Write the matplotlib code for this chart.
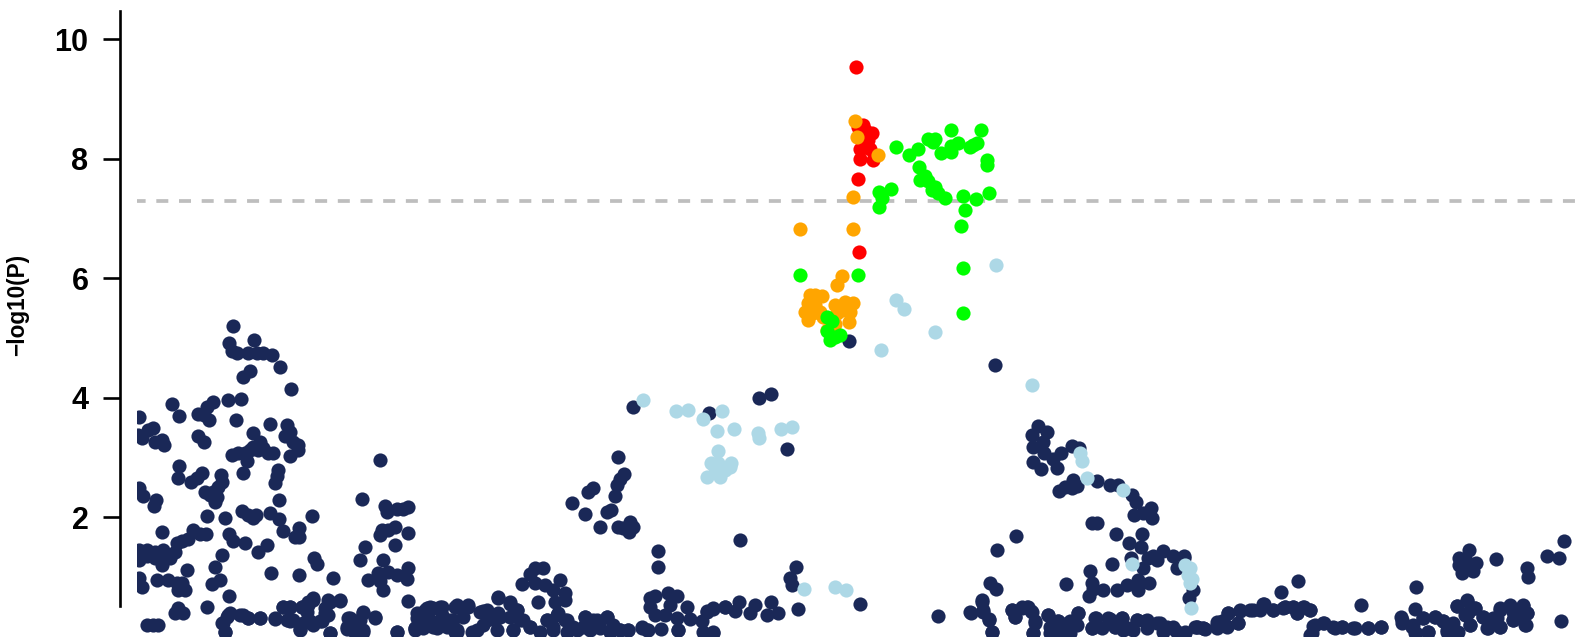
# -*- coding: utf-8 -*-
import numpy as np
import matplotlib
matplotlib.use("Agg")
import matplotlib.pyplot as plt

plt.rcParams["font.family"] = ["Liberation Sans", "DejaVu Sans"]

# Position along the region (arbitrary kb from the left edge) and -log10(P)
# Navy points, left part of the region
navy_a_x = [96.3, 91.7, 94.7, 100.3, 117, 111.3, 119.7, 126.3, 134.7, 143, 113, 105.7, 154, 90.7, 103.7, 35.3, 75.7, 69.7, 61.3, 67, 72.3, 42.3, 99, 2, 133, 149.7, 115.7, 153, 148, 11.3, 16.3, 4.7, 1.3, 61.3, 67.3, 18, 24.7, 27, 156.3, 160.7, 161.3, 123, 116.3, 126.3, 94.7, 101.3, 108, 113, 121.3, 131.3, 136.3, 110.3, 153, 105.7, 141.3, 139.7, 138, 42, 41.3, 64.7, 59.7, 54, 83.7, 84.7, 81.3, 76.3, 68, 73, 79.7, 78, 2.3, 6.3, 18.7, 17.3, 142, 104.7, 111.3, 119, 116.3, 133, 142, 69.7, 88.3, 174.7, 25.3, 56.3, 68.7, 63, 51.3, 44.7, 39.7, 92.3, 96.3, 108, 146.3, 162.3, 158, 162, 129.7, 121.3, 84.7, 2.3, 2.3, 9.7, 9.7, 18, 18, 26.3, 26.3, 24.7, 33, 38, 78, 49.7, 83, 75.3, 177.3, 180.3, 134, 161.7, 195.7, 2.3, 4.7, 19.7, 31.3, 39.7, 44.7, 41.3, 48, 92.3, 69.7, 40.7, 38, 45.7, 9.7, 15.7, 21.3]
navy_a_y = [5.20, 4.91, 4.78, 4.75, 4.97, 4.75, 4.75, 4.74, 4.71, 4.52, 4.45, 4.34, 4.14, 3.96, 3.97, 3.90, 3.92, 3.84, 3.72, 3.71, 3.62, 3.70, 3.62, 3.67, 3.56, 3.54, 3.40, 3.42, 3.36, 3.46, 3.49, 3.32, 3.37, 3.36, 3.26, 3.25, 3.29, 3.20, 3.26, 3.21, 3.12, 3.25, 3.18, 3.15, 3.04, 3.07, 3.07, 3.12, 3.12, 3.07, 3.07, 2.93, 3.03, 2.73, 2.79, 2.68, 2.57, 2.85, 2.65, 2.74, 2.65, 2.58, 2.70, 2.59, 2.51, 2.42, 2.42, 2.37, 2.34, 2.25, 2.48, 2.36, 2.28, 2.19, 2.28, 2.10, 2.03, 2.04, 1.98, 2.06, 1.97, 2.01, 1.98, 2.01, 1.75, 1.78, 1.71, 1.71, 1.64, 1.60, 1.56, 1.71, 1.59, 1.56, 1.77, 1.81, 1.66, 1.66, 1.53, 1.42, 1.36, 1.45, 1.28, 1.45, 1.34, 1.42, 1.31, 1.45, 1.31, 1.19, 1.31, 1.42, 1.17, 1.11, 0.94, 0.87, 1.32, 1.22, 1.07, 1.03, 0.97, 0.97, 0.83, 0.94, 0.94, 0.89, 0.89, 0.78, 0.78, 0.68, 0.50, 0.47, 0.40, 0.40, 0.19, 0.19, 0.19]

navy_b_x = [243, 225.3, 248, 249.7, 259.7, 265.7, 271.3, 244.7, 243, 251.3, 258, 271.3, 258, 228, 223, 246.3, 251.3, 259.7, 271.3, 269.7, 241.3, 231.3, 243, 245.7, 271.3, 84.7, 88, 91.3, 103, 111.3, 123, 138, 146.3, 153, 153, 163, 164.7, 171.3, 176.3, 173, 183, 191.3, 203, 188, 193, 211.3, 218, 226.3, 238, 209.7, 226.3, 259.7, 279.7, 289.7, 278, 289.7]
navy_b_y = [2.95, 2.30, 2.19, 2.08, 2.14, 2.13, 2.17, 1.78, 1.70, 1.78, 1.84, 1.74, 1.53, 1.49, 1.28, 1.28, 1.08, 1.03, 1.14, 0.96, 1.06, 0.94, 0.92, 0.77, 0.59, 0.22, 0.08, 0.36, 0.36, 0.30, 0.30, 0.29, 0.50, 0.50, 0.25, 0.11, 0.50, 0.58, 0.64, 0.25, 0.25, 0.61, 0.61, 0.39, 0.05, 0.30, 0.25, 0.39, 0.33, 0.13, 0.08, 0.08, 0.30, 0.44, 0.11, 0.19]

# Navy points, middle of the region
navy_c_x = [496.3, 572.3, 622, 634, 649.7, 480.7, 487.3, 483, 479.7, 478, 456.3, 451.3, 435, 448, 473.7, 470.3, 463, 481.3, 493, 496.3, 492.3, 486.3, 521.3, 521.3, 603, 658.7, 653, 654.7, 661.3, 398, 405.7, 393, 423, 384.7, 398, 408, 416.3, 428, 401.3, 418, 428, 293, 303, 319.7, 330.7, 361.3, 373, 346.3, 379.7, 293, 303, 319.7, 339.7, 363, 383, 393, 349.7, 421.3, 409.7, 429.7, 448, 469.7, 459.7, 483, 491.3, 504.7, 509.7, 416.3, 439.7, 376.3, 453]
navy_c_y = [3.85, 3.74, 4.00, 4.06, 3.14, 3.00, 2.72, 2.64, 2.54, 2.35, 2.48, 2.42, 2.24, 2.05, 2.12, 2.09, 1.84, 1.83, 1.92, 1.84, 1.75, 1.81, 1.43, 1.17, 1.61, 1.17, 0.98, 0.86, 0.46, 1.14, 1.14, 1.05, 0.94, 0.88, 0.89, 0.86, 0.78, 0.72, 0.57, 0.58, 0.61, 0.50, 0.50, 0.53, 0.53, 0.66, 0.58, 0.42, 0.44, 0.27, 0.22, 0.11, 0.11, 0.33, 0.27, 0.16, 0.27, 0.39, 0.27, 0.27, 0.33, 0.33, 0.27, 0.11, 0.11, 0.14, 0.11, 0.11, 0.11, 0.11, 0.11]

navy_d_x = [513, 518, 513, 531.3, 539.7, 533, 549.7, 518, 528, 539.7, 553, 564.7, 569.7, 576.3, 588, 598, 602.3, 618, 613, 629.7, 634, 641.3, 524, 541.3, 566.3, 576.3, 712, 857.6]
navy_d_y = [0.64, 0.67, 0.50, 0.72, 0.67, 0.53, 0.50, 0.36, 0.36, 0.30, 0.29, 0.25, 0.42, 0.46, 0.49, 0.42, 0.58, 0.53, 0.39, 0.36, 0.58, 0.39, 0.12, 0.11, 0.08, 0.05, 4.95, 4.55]

# Navy points, right of the peak
navy_e_x = [900.7, 909.7, 894.7, 905.7, 896.3, 907, 923.7, 916.3, 935.3, 942, 896.3, 903.7, 919.7, 959.7, 922, 928, 936.3, 934.7, 939.7, 973, 980.7, 994.7, 998.7, 1014, 997.3, 1006.3, 1015.3, 954.7, 960.3, 979, 1004.7, 992.3, 1004, 879, 860, 993.7, 975.3, 1005.7, 1011.3, 1016.3, 1026.3, 1020.3, 1035.7, 1047, 1040.3, 1055.7, 1052.3, 953, 929, 853, 858.7, 954.7, 966.3, 979.7, 989.7, 1001.3, 1012.3, 1000.7, 951.7, 956.3, 723.3, 801]
navy_e_y = [3.53, 3.43, 3.37, 3.26, 3.18, 3.08, 3.08, 2.98, 3.19, 3.16, 2.92, 2.81, 2.82, 2.61, 2.44, 2.50, 2.62, 2.48, 2.52, 2.54, 2.53, 2.37, 2.25, 2.15, 2.03, 2.07, 1.99, 1.90, 1.90, 1.72, 1.71, 1.56, 1.50, 1.69, 1.44, 1.32, 1.21, 1.14, 1.31, 1.34, 1.43, 1.28, 1.35, 1.34, 1.14, 0.77, 0.65, 1.10, 0.88, 0.89, 0.79, 0.89, 0.78, 0.78, 0.86, 0.94, 0.89, 0.77, 0.68, 0.80, 0.54, 0.34]

navy_f_x = [845.3, 833.7, 846.3, 852, 854.7, 874.7, 878, 884.7, 890.3, 893.7, 898, 896.3, 911.3, 913, 921.3, 931.3, 941.3, 939.7, 914.7, 931.3, 958.7, 954.7, 973, 984.7, 978, 999.7, 1008, 1019.7, 996.3, 1029.7, 1048, 1059.7, 1066.3, 1079.7, 1038, 986.3]
navy_f_y = [0.61, 0.40, 0.44, 0.29, 0.08, 0.44, 0.33, 0.47, 0.50, 0.42, 0.23, 0.05, 0.36, 0.16, 0.25, 0.23, 0.39, 0.19, 0.02, 0.05, 0.31, 0.14, 0.29, 0.31, 0.16, 0.27, 0.26, 0.22, 0.11, 0.16, 0.08, 0.16, 0.14, 0.24, 0.11, 0.11]

# Navy points, far right
navy_g_x = [1047, 1058, 1066.3, 1079.7, 1084.7, 1089.7, 1101.3, 1091.3, 1103, 1113, 1123, 1127, 1136.3, 1148, 1159.7, 1156.3, 1167, 1173, 1144, 1161.3, 1176.3, 1187, 1196.3, 1204.7, 1216.3, 1231.3, 1244, 1173, 1223.7, 1278.7, 1277.7, 1263.7, 1264.7, 1274.7, 1279, 1286.3, 1298, 1291.3, 1306.3, 1314.7, 1319.7, 1309.7, 1319.7, 1329.7, 1338, 1328, 1333, 1346.3, 1349.7, 1356.3, 1363, 1363, 1373, 1386.3, 1376.3, 1389.7, 1388.7, 1424, 1332.3, 1322.3, 1329.7, 1339, 1322.3, 1324.7, 1335.7, 1329, 1358.7, 1390, 1391.3, 1410.3, 1422.3, 1427]
navy_g_y = [1.32, 0.16, 0.14, 0.14, 0.25, 0.16, 0.23, 0.39, 0.43, 0.44, 0.44, 0.55, 0.44, 0.49, 0.39, 0.50, 0.50, 0.44, 0.74, 0.93, 0.17, 0.22, 0.16, 0.15, 0.14, 0.14, 0.16, 0.02, 0.53, 0.82, 0.46, 0.32, 0.22, 0.16, 0.05, 0.30, 0.33, 0.08, 0.25, 0.16, 0.05, 0.08, 0.51, 0.60, 0.47, 0.36, 0.19, 0.33, 0.14, 0.30, 0.16, 0.44, 0.51, 0.51, 0.27, 0.39, 0.19, 0.26, 1.45, 1.32, 1.25, 1.23, 1.19, 1.06, 1.10, 1.17, 1.30, 1.14, 0.99, 1.35, 1.31, 1.59]

# Navy points in the dense band along the bottom
band_a_x = [89.7, 93, 106.3, 111.3, 123, 86.3, 88, 138, 146.3, 153, 149.7, 156.3, 163, 164.7, 171.3, 176.3, 169.7, 166.3, 176.3, 184.7, 191.3, 193, 203, 188, 193, 213, 209.7, 219.7, 226.3, 238, 226.3, 218, 223, 259.7, 281.3, 289.7, 303, 318, 278, 286.3, 299.7, 309.7, 318, 304.7, 286.3, 313]
band_a_y = [0.33, 0.39, 0.36, 0.30, 0.31, 0.22, 0.08, 0.30, 0.50, 0.50, 0.27, 0.27, 0.13, 0.50, 0.53, 0.61, 0.41, 0.22, 0.19, 0.25, 0.36, 0.58, 0.60, 0.47, 0.05, 0.30, 0.16, 0.19, 0.41, 0.30, 0.11, 0.05, 0.27, 0.08, 0.36, 0.47, 0.47, 0.50, 0.14, 0.14, 0.14, 0.16, 0.08, 0.36, 0.27, 0.27]

band_b_x = [279.7, 288, 296.3, 304.7, 319.7, 331.3, 278, 286.3, 296.3, 306.3, 319.7, 316.3, 326.3, 334.7, 343, 349.7, 361.3, 373, 379.7, 346.3, 358, 361.3, 373, 386.3, 393, 359.7, 376.3, 403, 409.7, 419.7, 428, 416.3, 436.3, 429.7, 448, 456.3, 469.7, 446.3, 463, 476.3, 483, 491.3, 504.7, 511.3, 473, 541.3, 576.3, 569.7, 576.3, 588]
band_b_y = [0.39, 0.44, 0.47, 0.49, 0.50, 0.50, 0.14, 0.16, 0.16, 0.19, 0.08, 0.27, 0.33, 0.08, 0.41, 0.44, 0.64, 0.55, 0.44, 0.19, 0.27, 0.39, 0.33, 0.27, 0.16, 0.11, 0.11, 0.08, 0.27, 0.36, 0.27, 0.16, 0.16, 0.08, 0.33, 0.27, 0.33, 0.16, 0.14, 0.19, 0.11, 0.11, 0.16, 0.11, 0.08, 0.11, 0.08, 0.41, 0.47, 0.50]

band_c_x = [833, 844.7, 846.3, 852.3, 854.7, 874.7, 878, 884.7, 891.3, 894.7, 898, 895.7, 911.3, 913, 921.3, 933, 941.3, 938, 933, 923, 958, 954.7, 971.3, 984.7, 964.7, 978, 991.3, 999.7, 1009.7, 1023, 1036.3, 1048, 1009.7, 1026.3, 1039.7, 1059.7, 1068, 1079.7, 1089.7, 1101.3, 1091.3, 1103, 1116.3, 1126.3, 1136.3, 1148]
band_c_y = [0.41, 0.58, 0.41, 0.27, 0.08, 0.44, 0.33, 0.50, 0.50, 0.41, 0.25, 0.05, 0.36, 0.05, 0.25, 0.25, 0.39, 0.22, 0.05, 0.05, 0.30, 0.14, 0.30, 0.30, 0.14, 0.16, 0.14, 0.27, 0.27, 0.22, 0.16, 0.05, 0.14, 0.08, 0.08, 0.15, 0.12, 0.19, 0.17, 0.22, 0.40, 0.44, 0.45, 0.55, 0.44, 0.50]

band_d_x = [1146.3, 1156.3, 1166.3, 1173, 1159.7, 1178, 1186.3, 1198, 1204.7, 1218, 1231.3, 1244, 1174.7, 1264.7, 1276.3, 1278, 1286.3, 1298, 1291.3, 1306.3, 1316.3, 1321.3, 1309.7, 1329.7, 1319.7, 1338, 1331.3, 1333, 1346.3, 1351.3, 1363, 1359.7, 1363, 1373, 1386.3, 1376.3, 1389.7, 1388, 1381.3, 1376.3]
band_d_y = [0.47, 0.50, 0.50, 0.44, 0.39, 0.19, 0.22, 0.14, 0.15, 0.14, 0.14, 0.16, 0.05, 0.27, 0.19, 0.05, 0.30, 0.33, 0.08, 0.25, 0.22, 0.08, 0.11, 0.61, 0.51, 0.47, 0.39, 0.19, 0.33, 0.14, 0.16, 0.30, 0.47, 0.53, 0.53, 0.27, 0.39, 0.19, 0.36, 0.41]

# Light blue points
lblue_x = [506.3, 539, 550.7, 584.7, 566.3, 580.3, 597.3, 620.7, 622, 644, 655.3, 580.7, 574, 581.3, 593.7, 588, 569.7, 583, 578, 593, 667.3, 859.3, 759.3, 766.7, 798.3, 744.3, 895.3, 698.3, 709.3, 943, 945.3, 949.7, 986.3, 994.7, 1048, 1053, 1051.3, 1054.7, 1053, 1054.3]
lblue_y = [3.96, 3.78, 3.79, 3.78, 3.64, 3.44, 3.47, 3.40, 3.32, 3.47, 3.50, 3.11, 2.90, 2.90, 2.90, 2.79, 2.67, 2.67, 2.82, 2.84, 0.80, 6.22, 5.64, 5.49, 5.10, 4.79, 4.21, 0.82, 0.78, 3.08, 2.94, 2.65, 2.45, 1.22, 1.19, 1.14, 1.03, 0.96, 0.89, 0.47]

# Red points
red_x = [718.7, 721.3, 726.3, 734.7, 724.7, 731.3, 723, 733, 723, 736.3, 720.7, 722, 728, 728]
red_y = [9.54, 8.53, 8.57, 8.43, 8.37, 8.31, 8.17, 8.17, 7.99, 7.98, 7.66, 6.44, 8.20, 8.48]

# Orange points
orange_x = [717.7, 720, 740.7, 716.3, 663, 716, 705, 700, 673, 678, 684.7, 671.3, 678, 668, 671.3, 676.3, 683, 686.3, 698, 708, 715.7, 713, 699.7, 706.3, 712, 698, 689.7]
orange_y = [8.64, 8.37, 8.07, 7.36, 6.83, 6.82, 6.03, 5.89, 5.72, 5.72, 5.71, 5.58, 5.55, 5.43, 5.30, 5.41, 5.44, 5.35, 5.55, 5.60, 5.58, 5.44, 5.41, 5.47, 5.27, 5.24, 5.13]

# Green points
green_x = [758.7, 772.3, 781.3, 791.3, 798, 796.3, 813.7, 803.7, 813.7, 813.7, 820.7, 844.3, 833, 836.3, 839.7, 849.7, 850.3, 782, 788, 783, 791.3, 798, 794.7, 801.3, 808, 754, 742, 744.7, 742.3, 826.3, 838.7, 852, 827.7, 823.7, 825.7, 663.3, 721.3, 825.7, 689.7, 694.7, 689.7, 693, 703, 698]
green_y = [8.20, 8.07, 8.16, 8.34, 8.34, 8.29, 8.48, 8.09, 8.12, 8.21, 8.27, 8.48, 8.20, 8.24, 8.26, 7.98, 7.90, 7.86, 7.71, 7.65, 7.63, 7.53, 7.48, 7.42, 7.35, 7.50, 7.45, 7.34, 7.19, 7.38, 7.33, 7.43, 7.14, 6.87, 6.17, 6.06, 6.05, 5.42, 5.35, 5.29, 5.11, 4.96, 5.05, 5.01]

y_ticks = [2, 4, 6, 8, 10]
threshold = 7.3

navy_x = np.concatenate([navy_a_x, navy_b_x, navy_c_x, navy_d_x, navy_e_x, navy_f_x, navy_g_x,
                         band_a_x, band_b_x, band_c_x, band_d_x])
navy_y = np.concatenate([navy_a_y, navy_b_y, navy_c_y, navy_d_y, navy_e_y, navy_f_y, navy_g_y,
                         band_a_y, band_b_y, band_c_y, band_d_y])

fig = plt.figure(figsize=(15.8, 6.39), dpi=100)
ax = fig.add_axes([137 / 1580, 1 - 636.4 / 639, 1443 / 1580, 625 / 639])

size = 104
ax.scatter(navy_x, navy_y, s=size, color="#1A2857", linewidths=0, zorder=2)
ax.scatter(lblue_x, lblue_y, s=size, color="#ADD8E6", linewidths=0, zorder=3)
ax.axhline(threshold, color="#BEBEBE", linewidth=2.7, linestyle=(0.9, (3.2, 2.85)), zorder=1)
ax.scatter(red_x, red_y, s=size, color="#FF0000", linewidths=0, zorder=4)
ax.scatter(orange_x, orange_y, s=size, color="#FFA500", linewidths=0, zorder=5)
ax.scatter(green_x, green_y, s=size, color="#00FF00", linewidths=0, zorder=6)

ax.set_xlim(0, 1443)
ax.set_ylim(0, 10.47)

# y axis sits to the left of the plot area, as in base R graphics
for side in ["top", "right", "bottom"]:
    ax.spines[side].set_visible(False)
ax.spines["left"].set_position(("outward", 12.2))
ax.spines["left"].set_bounds(0.51, 10.47)
ax.spines["left"].set_linewidth(1.9)
ax.set_xticks([])
ax.set_yticks(y_ticks)
ax.tick_params(axis="y", length=12.2, width=1.9, pad=10.5, labelsize=22)
for lab in ax.get_yticklabels():
    lab.set_fontweight("bold")

ax.set_ylabel("\u2212log10(P)", fontsize=16.3, fontweight="bold")
ax.yaxis.set_label_coords(-0.075, 0.53)

fig.savefig("out.png", dpi=100)
